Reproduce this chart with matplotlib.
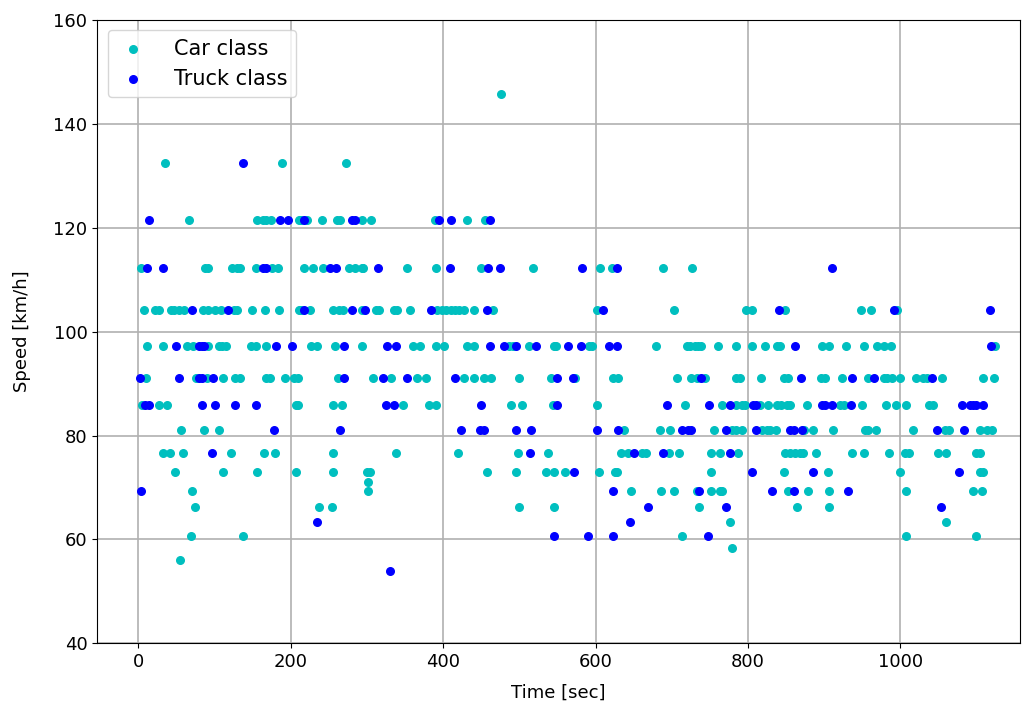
import numpy as np
import matplotlib
matplotlib.use('Agg')
import matplotlib.pyplot as plt

# car class: time [sec] grouped by speed level [km/h]
car_levels = {
    145.8: [476],
    132.5: [35, 189, 273],
    121.5: [66, 156, 163, 168, 174, 211, 214, 222, 241, 261, 265, 293, 305, 389, 431, 455],
    112.2: [3, 88, 92, 123, 129, 133, 154, 176, 183, 217, 229, 243, 276, 284, 293, 295, 353,
            391, 450, 518, 606, 621, 688, 726],
    104.1: [8, 22, 27, 43, 47, 53, 60, 85, 92, 101, 109, 125, 130, 149, 166, 185, 211, 214, 225,
            256, 263, 268, 293, 312, 316, 336, 340, 357, 392, 398, 404, 410, 416, 421, 427, 441,
            465, 602, 703, 798, 805, 849, 948, 961, 996],
    97.2: [12, 33, 64, 72, 92, 106, 110, 115, 148, 154, 167, 227, 235, 258, 294, 360, 370, 391,
           401, 431, 440, 487, 492, 513, 545, 548, 592, 595, 680, 720, 724, 731, 735, 739, 761,
           784, 805, 822, 838, 842, 897, 906, 929, 952, 970, 979, 988, 1124],
    91.1: [10, 76, 90, 111, 127, 133, 168, 173, 193, 204, 210, 262, 308, 332, 366, 378, 428, 440,
           453, 463, 500, 542, 573, 623, 630, 707, 725, 733, 744, 784, 790, 817, 847, 853, 896,
           901, 924, 957, 978, 982, 989, 1000, 1021, 1030, 1035, 1055, 1109, 1123],
    85.8: [5, 27, 38, 207, 210, 256, 267, 348, 381, 391, 489, 504, 544, 602, 718, 766, 785, 792,
           796, 816, 827, 838, 844, 851, 855, 878, 921, 926, 950, 981, 995, 1008, 1038, 1043],
    81.0: [56, 86, 106, 637, 685, 698, 756, 779, 785, 792, 818, 825, 829, 837, 874, 885, 912, 954,
           957, 968, 1017, 1059, 1064, 1104, 1114, 1120],
    76.7: [32, 42, 58, 121, 165, 180, 255, 338, 420, 498, 538, 634, 643, 661, 666, 696, 709, 752,
           763, 787, 849, 855, 862, 869, 872, 889, 936, 953, 985, 1006, 1011, 1050, 1060, 1100, 1105],
    72.9: [48, 111, 156, 207, 255, 300, 304, 458, 496, 535, 546, 560, 605, 626, 628, 752, 848, 905,
           1000, 1105, 1109],
    71.0: [302],
    69.4: [70, 301, 646, 686, 703, 733, 751, 763, 766, 852, 879, 906, 1007, 1096, 1107],
    66.3: [75, 237, 254, 500, 545, 736, 864, 906],
    63.4: [777, 1060],
    60.75: [69, 137, 714, 1007, 1100],
    58.3: [779],
    56.1: [55],
}

# truck class
truck_levels = {
    132.5: [137],
    121.5: [14, 186, 196, 218, 281, 284, 395, 410, 462],
    112.2: [11, 32, 163, 167, 251, 259, 314, 409, 459, 474, 582, 628, 911],
    104.1: [71, 118, 218, 280, 297, 384, 457, 610, 841, 992, 1118],
    97.2: [50, 79, 83, 86, 181, 202, 270, 327, 338, 461, 480, 496, 522, 564, 581, 618, 628, 862, 1119],
    91.1: [2, 54, 79, 84, 98, 270, 321, 353, 416, 550, 570, 739, 870, 937, 966, 1041],
    85.8: [9, 14, 84, 100, 127, 154, 325, 336, 450, 550, 694, 749, 777, 807, 811, 897, 901, 911,
           935, 1081, 1092, 1096, 1100, 1108],
    81.0: [178, 265, 423, 448, 453, 495, 515, 602, 630, 713, 721, 725, 771, 811, 855, 860, 871,
           1048, 1084],
    76.7: [97, 514, 650, 688, 777],
    72.9: [572, 806, 886, 1077],
    69.4: [4, 623, 736, 831, 861, 932],
    66.3: [669, 771, 1053],
    63.4: [234, 645],
    60.75: [546, 590, 623, 748],
    54.0: [330],
}

car_time = [t for v, ts in car_levels.items() for t in ts]
car_speed = [v for v, ts in car_levels.items() for t in ts]
truck_time = [t for v, ts in truck_levels.items() for t in ts]
truck_speed = [v for v, ts in truck_levels.items() for t in ts]

fig = plt.figure(figsize=(10.23, 7.07), dpi=100)
ax = fig.add_axes([0.095, 0.09, 0.902, 0.882])

ax.scatter(car_time, car_speed, s=30, c='c', label='Car class', zorder=3)
ax.scatter(truck_time, truck_speed, s=30, c='b', label='Truck class', zorder=3)

ax.set_xlim(-54, 1157)
ax.set_ylim(40, 160)
ax.grid(True, color='#b0b0b0', linewidth=1.2)
ax.set_axisbelow(True)
ax.tick_params(labelsize=13)
ax.set_xlabel('Time [sec]', fontsize=13, labelpad=9)
ax.set_ylabel('Speed [km/h]', fontsize=13, labelpad=16)
ax.legend(loc='upper left', fontsize=15, handletextpad=1.2, handlelength=1.6)

fig.savefig('out.png', dpi=100)
